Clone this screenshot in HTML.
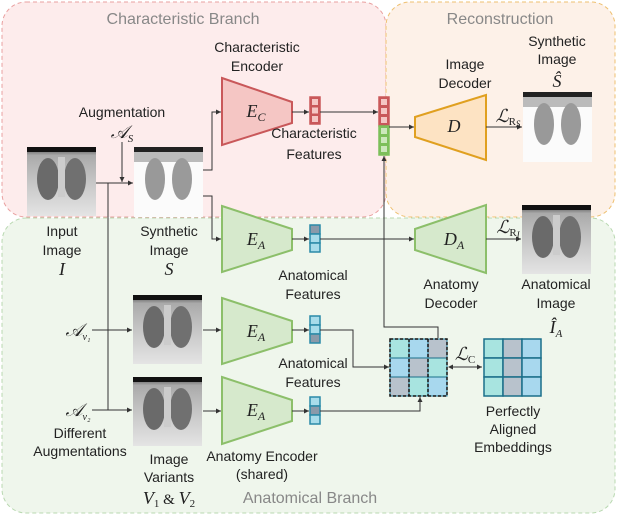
<!DOCTYPE html>
<html><head><meta charset="utf-8"><style>
html,body{margin:0;padding:0;background:#fff}
svg{display:block}
text{font-family:"Liberation Sans",sans-serif;font-size:14px;fill:#222;text-anchor:middle}
.m{font-family:"Liberation Serif",serif;font-style:italic;font-size:18px}
.t{fill:#888;font-size:16px}
</style></head><body>
<svg width="618" height="516" viewBox="0 0 618 516" xmlns="http://www.w3.org/2000/svg">
<defs>
<marker id="a" markerWidth="6" markerHeight="6" refX="5" refY="3" orient="auto"><path d="M0,0.5 L5,3 L0,5.5z" fill="#333"/></marker>
<marker id="b" markerWidth="6" markerHeight="6" refX="1" refY="3" orient="auto"><path d="M5,0.5 L0,3 L5,5.5z" fill="#333"/></marker>
<linearGradient id="x1" x1="0" y1="0" x2="0" y2="1"><stop offset="0" stop-color="#444"/><stop offset=".12" stop-color="#aaa"/><stop offset=".6" stop-color="#ccc"/><stop offset="1" stop-color="#e4e4e4"/></linearGradient>
<g id="xr"><rect width="69" height="69" fill="url(#x1)"/><rect width="69" height="5" fill="#111"/><ellipse cx="21" cy="32" rx="11" ry="21" fill="#6a6a6a"/><ellipse cx="48" cy="32" rx="11" ry="21" fill="#707070"/><rect x="31" y="10" width="7" height="40" fill="#ccc"/></g>
<g id="xs"><rect width="69" height="70" fill="#fbfbfb"/><rect width="69" height="5" fill="#222"/><rect y="5" width="69" height="10" fill="#bbb"/><ellipse cx="21" cy="32" rx="10" ry="21" fill="#999"/><ellipse cx="48" cy="32" rx="10" ry="21" fill="#9a9a9a"/></g>
</defs>
<rect x="2" y="2" width="384" height="215" rx="24" fill="#fdecec" stroke="#e9a0a0" stroke-dasharray="4,3"/>
<rect x="386" y="2" width="229" height="215" rx="24" fill="#fdf1e8" stroke="#eec070" stroke-dasharray="4,3"/>
<rect x="2" y="218" width="613" height="295" rx="24" fill="#eff6ec" stroke="#b8d8b0" stroke-dasharray="4,3"/>
<text x="183" y="24" class="t">Characteristic Branch</text>
<text x="500" y="24" class="t">Reconstruction</text>
<text x="310" y="503" class="t">Anatomical Branch</text>

<use href="#xr" x="27" y="147"/>
<use href="#xs" x="134" y="147"/>
<use href="#xs" x="523" y="92"/>
<use href="#xr" x="522" y="205"/>
<use href="#xr" x="133" y="295"/>
<use href="#xr" x="133" y="377"/>

<polygon points="222,78 292,102 292,123 222,145" fill="#f5c6c4" stroke="#c9585a" stroke-width="2"/>
<polygon points="222,206 292,229 292,250 222,272" fill="#d6e9cc" stroke="#8cbf6a" stroke-width="2"/>
<polygon points="222,298 292,321 292,342 222,364" fill="#d6e9cc" stroke="#8cbf6a" stroke-width="2"/>
<polygon points="222,377 292,400 292,421 222,444" fill="#d6e9cc" stroke="#8cbf6a" stroke-width="2"/>
<polygon points="415,117 486,95 486,160 415,137" fill="#fde3c3" stroke="#e0a020" stroke-width="2"/>
<polygon points="415,229 486,205 486,273 415,250" fill="#d6e9cc" stroke="#8cbf6a" stroke-width="2"/>
<text x="256" y="117" class="m">E<tspan font-size="12" dy="4">C</tspan></text>
<text x="256" y="245" class="m">E<tspan font-size="12" dy="4">A</tspan></text>
<text x="256" y="337" class="m">E<tspan font-size="12" dy="4">A</tspan></text>
<text x="256" y="416" class="m">E<tspan font-size="12" dy="4">A</tspan></text>
<text x="454" y="132" class="m">D</text>
<text x="454" y="245" class="m">D<tspan font-size="12" dy="4">A</tspan></text>

<g stroke-width="1.5">
<rect x="310" y="97" width="10" height="27" fill="#c9585a" stroke="#c9585a"/>
<rect x="312" y="99" width="6" height="6" fill="#f5c6c4"/><rect x="312" y="107.5" width="6" height="6" fill="#f5c6c4"/><rect x="312" y="116" width="6" height="6" fill="#f5c6c4"/>
<rect x="379" y="97" width="10" height="29" fill="#c9585a" stroke="#c9585a"/>
<rect x="381" y="99" width="6" height="6" fill="#f5c6c4"/><rect x="381" y="108" width="6" height="6" fill="#f5c6c4"/><rect x="381" y="117" width="6" height="6" fill="#f5c6c4"/>
<rect x="379" y="126" width="10" height="29" fill="#7cbf5a" stroke="#7cbf5a"/>
<rect x="381" y="128" width="6" height="6" fill="#cce8bc"/><rect x="381" y="137" width="6" height="6" fill="#cce8bc"/><rect x="381" y="146" width="6" height="6" fill="#cce8bc"/>
</g>
<g stroke="#2a8aa8" stroke-width="1.5">
<rect x="310" y="225" width="10" height="9" fill="#8a9aaa"/><rect x="310" y="234" width="10" height="9" fill="#a8dcea"/><rect x="310" y="243" width="10" height="9" fill="#a8dcea"/>
<rect x="310" y="316" width="10" height="9" fill="#a8dcea"/><rect x="310" y="325" width="10" height="9" fill="#a8dcea"/><rect x="310" y="334" width="10" height="9" fill="#8a9aaa"/>
<rect x="310" y="397" width="10" height="9" fill="#a8dcea"/><rect x="310" y="406" width="10" height="9" fill="#8a9aaa"/><rect x="310" y="415" width="10" height="9" fill="#a8dcea"/>
</g>

<g stroke="#1a6f8a" stroke-width="1">
<rect x="390" y="339" width="19" height="19" fill="#a8e4e0"/><rect x="409" y="339" width="19" height="19" fill="#a8d8ee"/><rect x="428" y="339" width="19" height="19" fill="#b8c2cc"/>
<rect x="390" y="358" width="19" height="19" fill="#a8d8ee"/><rect x="409" y="358" width="19" height="19" fill="#b8c2cc"/><rect x="428" y="358" width="19" height="19" fill="#a8e4e0"/>
<rect x="390" y="377" width="19" height="19" fill="#b8c2cc"/><rect x="409" y="377" width="19" height="19" fill="#a8e4e0"/><rect x="428" y="377" width="19" height="19" fill="#a8d8ee"/>
</g>
<g fill="none" stroke="#111" stroke-width="1.5" stroke-dasharray="3,2">
<rect x="390" y="339" width="57" height="57"/><line x1="409" y1="339" x2="409" y2="396"/><line x1="428" y1="339" x2="428" y2="396"/>
</g>
<g stroke="#1a6f8a" stroke-width="1.5">
<rect x="484" y="339" width="19" height="19" fill="#a8e4e0"/><rect x="503" y="339" width="19" height="19" fill="#b8c2cc"/><rect x="522" y="339" width="19" height="19" fill="#a8d8ee"/>
<rect x="484" y="358" width="19" height="19" fill="#a8e4e0"/><rect x="503" y="358" width="19" height="19" fill="#b8c2cc"/><rect x="522" y="358" width="19" height="19" fill="#a8d8ee"/>
<rect x="484" y="377" width="19" height="19" fill="#a8e4e0"/><rect x="503" y="377" width="19" height="19" fill="#b8c2cc"/><rect x="522" y="377" width="19" height="19" fill="#a8d8ee"/>
</g>

<g fill="none" stroke="#333" stroke-width="1">
<line x1="96" y1="183" x2="133" y2="183" marker-end="url(#a)"/>
<line x1="122" y1="142" x2="122" y2="182" marker-end="url(#a)"/>
<polyline points="108,183 108,410"/>
<line x1="92" y1="330" x2="132" y2="330" marker-end="url(#a)"/>
<line x1="92" y1="410" x2="132" y2="410" marker-end="url(#a)"/>
<polyline points="203,170 212,170 212,112 221,112" marker-end="url(#a)"/>
<polyline points="203,196 212,196 212,239 221,239" marker-end="url(#a)"/>
<line x1="203" y1="330" x2="221" y2="330" marker-end="url(#a)"/>
<line x1="203" y1="411" x2="221" y2="411" marker-end="url(#a)"/>
<line x1="292" y1="112" x2="309" y2="112" marker-end="url(#a)"/>
<line x1="320" y1="112" x2="378" y2="112" marker-end="url(#a)"/>
<line x1="292" y1="239" x2="309" y2="239" marker-end="url(#a)"/>
<line x1="292" y1="330" x2="309" y2="330" marker-end="url(#a)"/>
<line x1="292" y1="411" x2="309" y2="411" marker-end="url(#a)"/>
<line x1="389" y1="127" x2="414" y2="127" marker-end="url(#a)"/>
<line x1="320" y1="239" x2="414" y2="239" marker-end="url(#a)"/>
<line x1="486" y1="127" x2="522" y2="127" marker-end="url(#a)"/>
<line x1="486" y1="239" x2="521" y2="239" marker-end="url(#a)"/>
<polyline points="438,338 438,327 384,327 384,156" marker-end="url(#a)"/>
<polyline points="320,330 353,330 353,367 389,367" marker-end="url(#a)"/>
<polyline points="320,411 420,411 420,397" marker-end="url(#a)"/>
<line x1="449" y1="367" x2="482" y2="367" marker-start="url(#b)" marker-end="url(#a)"/>
</g>

<text x="257" y="52">Characteristic</text><text x="257" y="71">Encoder</text>
<text x="314" y="138">Characteristic</text><text x="314" y="159">Features</text>
<text x="122" y="117">Augmentation</text>
<text x="122" y="138" class="m">𝒜<tspan font-size="11" dy="4">S</tspan></text>
<text x="465" y="69">Image</text><text x="465" y="88">Decoder</text>
<text x="557" y="46">Synthetic</text><text x="557" y="64">Image</text>
<text x="557" y="87" class="m">Ŝ</text>
<text x="508" y="122" class="m">ℒ<tspan font-size="11" font-style="normal" dy="3">R</tspan><tspan font-size="9" dy="2">S</tspan></text>
<text x="508" y="233" class="m">ℒ<tspan font-size="11" font-style="normal" dy="3">R</tspan><tspan font-size="9" dy="2">I</tspan></text>
<text x="62" y="236">Input</text><text x="62" y="255">Image</text><text x="62" y="275" class="m">I</text>
<text x="169" y="236">Synthetic</text><text x="169" y="255">Image</text><text x="169" y="275" class="m">S</text>
<text x="313" y="280">Anatomical</text><text x="313" y="299">Features</text>
<text x="451" y="289">Anatomy</text><text x="451" y="308">Decoder</text>
<text x="556" y="289">Anatomical</text><text x="556" y="308">Image</text>
<text x="556" y="333" class="m">Î<tspan font-size="11" dy="4">A</tspan></text>
<text x="78" y="336" class="m">𝒜<tspan font-size="10" dy="4">v₁</tspan></text>
<text x="78" y="416" class="m">𝒜<tspan font-size="10" dy="4">v₂</tspan></text>
<text x="80" y="438">Different</text><text x="80" y="456">Augmentations</text>
<text x="313" y="368">Anatomical</text><text x="313" y="387">Features</text>
<text x="465" y="360" class="m">ℒ<tspan font-size="11" font-style="normal" dy="3">C</tspan></text>
<text x="513" y="416">Perfectly</text><text x="513" y="434">Aligned</text><text x="513" y="452">Embeddings</text>
<text x="169" y="464">Image</text><text x="169" y="482">Variants</text>
<text x="169" y="504" class="m">V<tspan font-size="11" font-style="normal" dy="3">1</tspan><tspan font-style="normal" font-size="15" dy="-3"> &amp; </tspan>V<tspan font-size="11" font-style="normal" dy="3">2</tspan></text>
<text x="262" y="461">Anatomy Encoder</text><text x="262" y="479">(shared)</text>
</svg>
</body></html>
